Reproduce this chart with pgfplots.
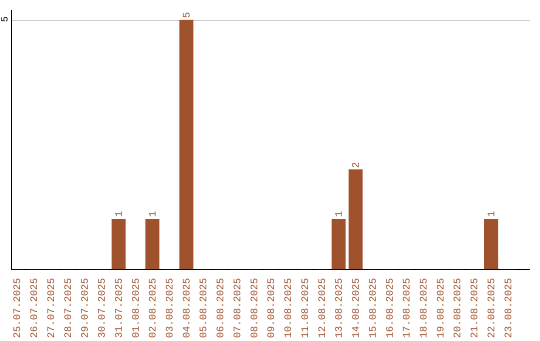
\documentclass[border=0pt]{standalone}
\usepackage{pgfplots}
\pgfplotsset{compat=1.18}
\usepackage{fontspec}
\setmainfont{Liberation Sans}
\newfontfamily\monofont{Liberation Mono}
\definecolor{barbrown}{HTML}{A0522D}
\definecolor{gridgray}{HTML}{CCCCCC}

\pgfplotstableread{
idx count
0 0
1 0
2 0
3 0
4 0
5 0
6 1
7 0
8 1
9 0
10 5
11 0
12 0
13 0
14 0
15 0
16 0
17 0
18 0
19 1
20 2
21 0
22 0
23 0
24 0
25 0
26 0
27 0
28 1
29 0
}\counts

\begin{document}
\begin{tikzpicture}
\path[use as bounding box] (-11pt,-71pt) rectangle (529pt,269pt);
\begin{axis}[
  at={(0,0)}, anchor=south west,
  scale only axis,
  width=519pt, height=259pt,
  xmin=-0.35, xmax=30.3,
  ymin=0, ymax=5.2,
  axis x line*=bottom,
  axis y line*=left,
  axis line style={black, line width=0.9pt},
  xtick=data,
  xticklabels={25.07.2025,26.07.2025,27.07.2025,28.07.2025,29.07.2025,30.07.2025,31.07.2025,01.08.2025,02.08.2025,03.08.2025,04.08.2025,05.08.2025,06.08.2025,07.08.2025,08.08.2025,09.08.2025,10.08.2025,11.08.2025,12.08.2025,13.08.2025,14.08.2025,15.08.2025,16.08.2025,17.08.2025,18.08.2025,19.08.2025,20.08.2025,21.08.2025,22.08.2025,23.08.2025},
  x tick label style={rotate=90, anchor=east, font=\monofont\fontsize{10}{10}\selectfont, text=barbrown, inner sep=0pt},
  major tick length=0pt,
  xticklabel shift=9pt,
  ytick={5},
  yticklabel style={rotate=90, anchor=south, font=\monofont\fontsize{9.5}{9.5}\selectfont, inner sep=0pt},
  yticklabel shift=3pt,
  ymajorgrids,
  grid style={gridgray, line width=0.8pt},
  /pgf/number format/assume math mode=true,
]
% daily counts; only non-zero days get a value label
\addplot[ybar, bar width=14pt, fill=barbrown, draw=none,
  visualization depends on={y \as \rawy},
  point meta=explicit symbolic,
  nodes near coords={\ifdim\rawy pt>0pt \pgfmathprintnumber{\rawy}\fi},
  nodes near coords style={rotate=90, anchor=west, text=barbrown, font=\monofont\fontsize{10}{10}\selectfont, inner sep=1pt},
] table[x=idx, y=count, meta=count] {\counts};
\end{axis}
\end{tikzpicture}
\end{document}
